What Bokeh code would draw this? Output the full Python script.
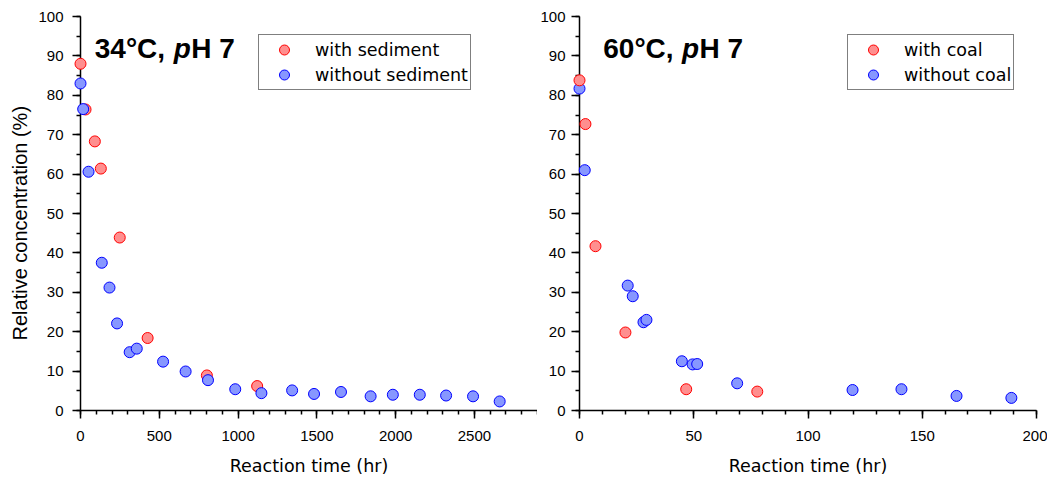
from bokeh.plotting import figure
from bokeh.layouts import row
from bokeh.models import (Range1d, SingleIntervalTicker, Legend, LegendItem, Label, Title)
from bokeh.embed import file_html
from bokeh.resources import INLINE

# ---- data ----
left_with_t = [0, 32, 91, 129, 249, 426, 802, 1121]
left_with_c = [88.0, 76.4, 68.3, 61.4, 43.9, 18.4, 8.9, 6.2]
left_without_t = [0, 17, 51, 135, 184, 232, 312, 357, 524, 667, 809, 982, 1148,
                  1343, 1482, 1653, 1841, 1982, 2153, 2320, 2491, 2660]
left_without_c = [83.0, 76.5, 60.6, 37.5, 31.2, 22.1, 14.8, 15.7, 12.4, 9.9, 7.7,
                  5.4, 4.4, 5.1, 4.2, 4.7, 3.6, 4.0, 4.0, 3.8, 3.6, 2.3]

right_with_t = [0, 2.6, 7.0, 20.1, 46.7, 77.8]
right_with_c = [83.8, 72.7, 41.7, 19.8, 5.4, 4.8]
right_without_t = [0, 2.3, 21.1, 23.3, 28.0, 29.3, 44.8, 49.5, 51.5, 69.0,
                   119.5, 140.9, 165, 189]
right_without_c = [81.7, 61.0, 31.7, 29.0, 22.4, 23.0, 12.5, 11.7, 11.8, 6.9,
                   5.2, 5.4, 3.7, 3.2]

y_title = "Relative concentration (%)"
x_title = "Reaction time (hr)"

RED_FILL, RED_LINE = "#FF8F8F", "#FF0000"
BLUE_FILL, BLUE_LINE = "#8797FF", "#0000FF"

TICK_FONT = "Liberation Sans"
JP_FONT = "DejaVu Sans"


def make_fig(width, xmax, xint, border_left, border_right, ystandoff):
    p = figure(width=width, height=480, x_range=Range1d(0, xmax), y_range=Range1d(0, 100),
               output_backend="svg", toolbar_location=None,
               min_border_left=border_left, min_border_right=border_right,
               min_border_top=16, min_border_bottom=70)
    p.outline_line_color = None
    p.xgrid.visible = False
    p.ygrid.visible = False
    p.xaxis.ticker = SingleIntervalTicker(interval=xint, num_minor_ticks=5)
    p.yaxis.ticker = SingleIntervalTicker(interval=10, num_minor_ticks=2)
    for ax in (p.xaxis[0], p.yaxis[0]):
        ax.axis_line_color = "black"
        ax.axis_line_width = 1.5
        ax.major_tick_line_color = "black"
        ax.major_tick_line_width = 1.5
        ax.minor_tick_line_color = "black"
        ax.minor_tick_line_width = 1.5
        ax.major_tick_in = 0
        ax.major_tick_out = 8
        ax.minor_tick_in = 0
        ax.minor_tick_out = 4
        ax.major_label_text_font = TICK_FONT
        ax.major_label_text_font_size = "15px"
        ax.major_label_text_color = "black"
    p.xaxis.major_label_standoff = 12
    p.yaxis.major_label_standoff = ystandoff
    p.xaxis.axis_label = x_title
    p.xaxis.axis_label_text_font = JP_FONT
    p.xaxis.axis_label_text_font_size = "17.5px"
    p.xaxis.axis_label_text_font_style = "normal"
    p.xaxis.axis_label_text_color = "black"
    p.xaxis.axis_label_standoff = 12
    return p


def add_points(p, t, c, fill, line):
    r = p.scatter(t, c, size=11, fill_color=fill, line_color=line, line_width=1)
    r.level = "overlay"
    return r


def add_title(p, lead, x0, xp, xh, y):
    common = dict(y=y, text_font="Liberation Sans", text_font_size="28px",
                  text_color="black", text_baseline="alphabetic", text_align="left")
    p.add_layout(Label(x=x0, text=lead, text_font_style="bold", **common))
    p.add_layout(Label(x=xp, text="p", text_font_style="bold italic", **common))
    p.add_layout(Label(x=xh, text="H 7", text_font_style="bold", **common))


def add_legend(p, items, loc):
    lg = Legend(items=items, location=loc, border_line_color="black", border_line_width=1,
                padding=2, spacing=0, glyph_height=25, label_height=25, glyph_width=46,
                label_standoff=8, label_text_font=JP_FONT, label_text_font_size="17.5px",
                label_text_color="black", background_fill_alpha=1, margin=0)
    p.add_layout(lg)


# ---- left panel ----
p1 = make_fig(537, 2900, 500, 80, 0, 9)
r1a = add_points(p1, left_with_t, left_with_c, RED_FILL, RED_LINE)
r1b = add_points(p1, left_without_t, left_without_c, BLUE_FILL, BLUE_LINE)
add_title(p1, "34°C, ", 90.5, 591, 703, 91.9)
add_legend(p1, [LegendItem(label="with sediment", renderers=[r1a]),
                LegendItem(label="without sediment", renderers=[r1b])], (178, 320))
p1.add_layout(Title(text=y_title, align="left", offset=70, standoff=9,
                    text_font="Liberation Sans", text_font_size="20px",
                    text_font_style="normal", text_color="black"), "left")

# ---- right panel ----
p2 = make_fig(510, 200, 50, 42, 11, 6)
r2b = add_points(p2, right_without_t, right_without_c, BLUE_FILL, BLUE_LINE)
r2a = add_points(p2, right_with_t, right_with_c, RED_FILL, RED_LINE)
add_title(p2, "60°C, ", 10.4, 44.9, 52.5, 91.9)
add_legend(p2, [LegendItem(label="with coal", renderers=[r2a]),
                LegendItem(label="without coal", renderers=[r2b])], (268, 320))

layout = row(p1, p2)
open("out.html", "w").write(file_html(layout, INLINE))
